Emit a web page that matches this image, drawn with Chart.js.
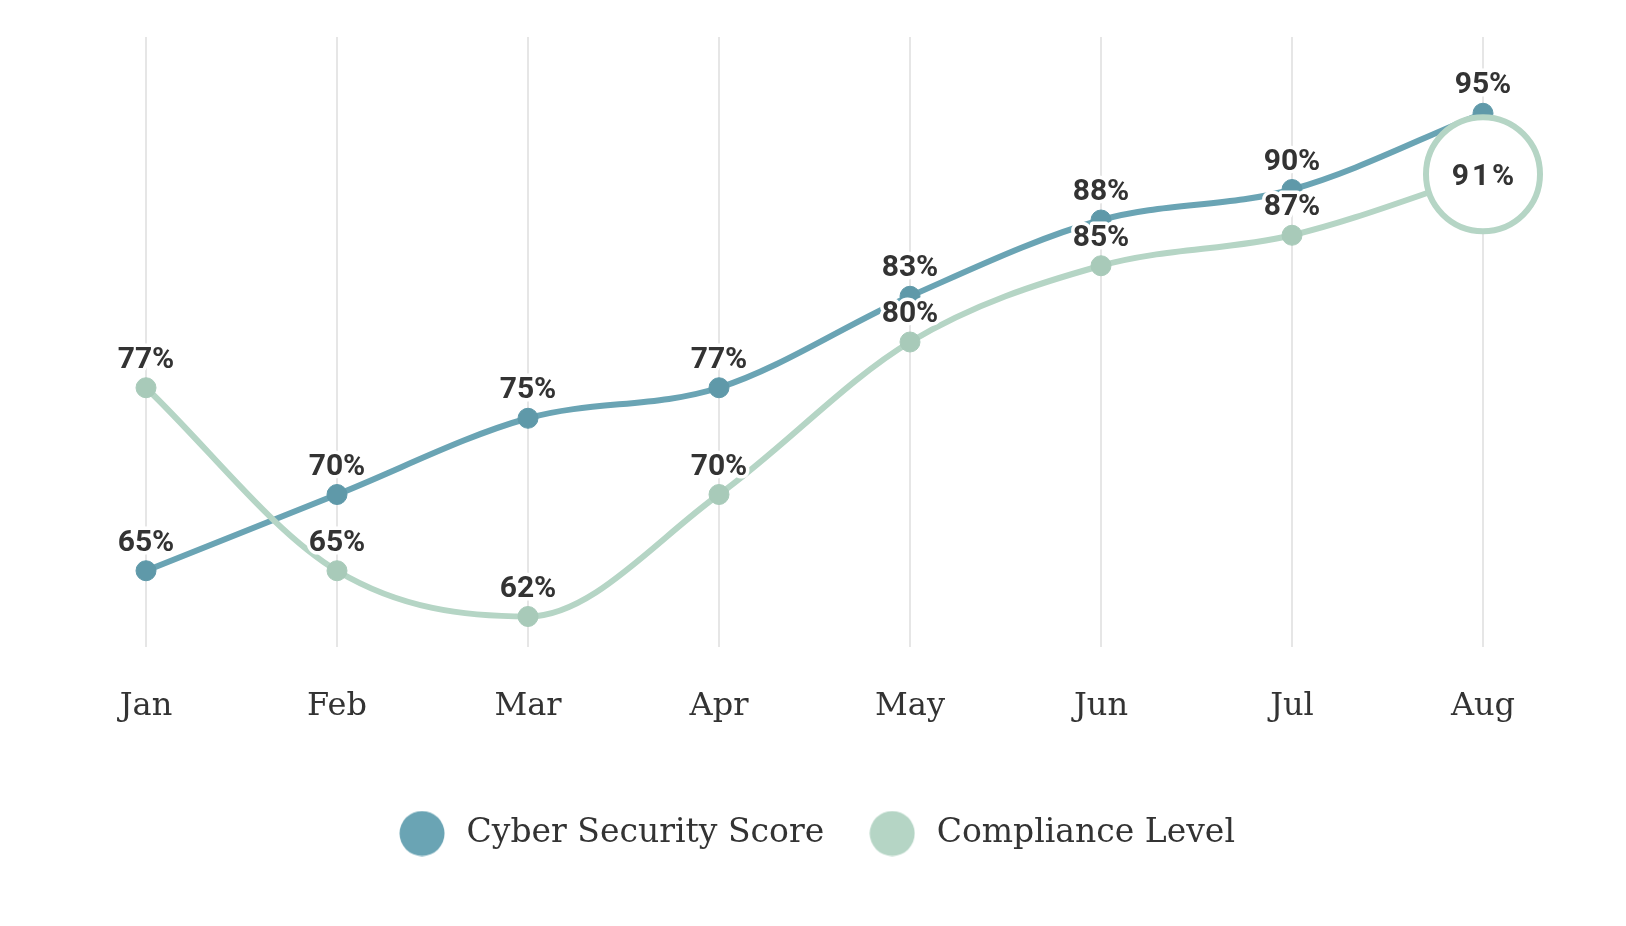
<!DOCTYPE html>
<html><head><meta charset="utf-8">
<script src="https://cdn.jsdelivr.net/npm/chart.js@4.4.0/dist/chart.umd.min.js"></script>
<style>html,body{margin:0;padding:0;background:#fff;overflow:hidden}#wrap{width:1626px;height:926px}</style>
</head><body><div id="wrap"><canvas id="c" width="1626" height="926"></canvas></div>
<script>
const months = ['Jan', 'Feb', 'Mar', 'Apr', 'May', 'Jun', 'Jul', 'Aug'];
const cyberScore = [65, 70, 75, 77, 83, 88, 90, 95];
const complianceLevel = [77, 65, 62, 70, 80, 85, 87, 91];
const seriesNames = ['Cyber Security Score', 'Compliance Level'];
const yRange = [60, 100];

const SERIF = "'Roboto Slab','DejaVu Serif',serif";
const CYBER_LINE = '#6aa4b4', CYBER_PT = '#5f99a9';
const COMP_LINE = '#b5d5c5', COMP_PT = '#a8cab9';
const lastIdx = complianceLevel.length - 1;

function makeDot(color) {
  const c = document.createElement('canvas');
  c.width = 46; c.height = 46;
  const g = c.getContext('2d');
  g.fillStyle = color;
  g.beginPath(); g.arc(23, 23, 22.5, 0, Math.PI * 2); g.fill();
  return c;
}

const valueLabels = {
  id: 'valueLabels',
  afterDatasetsDraw(chart) {
    const ctx = chart.ctx;
    ctx.save();
    ctx.textAlign = 'center';
    ctx.textBaseline = 'alphabetic';
    ctx.font = 'bold 30px Roboto';
    [0, 1].forEach(di => {
      const meta = chart.getDatasetMeta(di);
      const data = chart.data.datasets[di].data;
      meta.data.forEach((pt, i) => {
        const txt = data[i] + '%';
        ctx.fillStyle = '#333333';
        if (di === 1 && i === lastIdx) {
          ctx.letterSpacing = '3px';
          ctx.fillText(txt, pt.x + 1.5, pt.y + 11);
          ctx.letterSpacing = '0px';
        } else {
          ctx.lineWidth = 7;
          ctx.lineJoin = 'round';
          ctx.strokeStyle = '#ffffff';
          ctx.strokeText(txt, pt.x, pt.y - 20);
          ctx.fillText(txt, pt.x, pt.y - 20);
        }
      });
    });
    ctx.restore();
  }
};

new Chart(document.getElementById('c'), {
  type: 'line',
  data: {
    labels: months,
    datasets: [
      {
        label: seriesNames[0],
        data: cyberScore,
        borderColor: CYBER_LINE,
        borderWidth: 6,
        cubicInterpolationMode: 'monotone',
        pointRadius: 10,
        pointBackgroundColor: CYBER_PT,
        pointBorderColor: CYBER_PT,
        pointBorderWidth: 1,
        clip: false,
        order: 1
      },
      {
        label: seriesNames[1],
        data: complianceLevel,
        borderColor: COMP_LINE,
        borderWidth: 6,
        cubicInterpolationMode: 'monotone',
        pointRadius: c => c.dataIndex === lastIdx ? 57 : 10,
        pointBackgroundColor: c => c.dataIndex === lastIdx ? '#ffffff' : COMP_PT,
        pointBorderColor: c => c.dataIndex === lastIdx ? COMP_LINE : COMP_PT,
        pointBorderWidth: c => c.dataIndex === lastIdx ? 6 : 1,
        clip: false,
        order: 0
      }
    ]
  },
  options: {
    responsive: false,
    animation: false,
    events: [],
    layout: { autoPadding: false, padding: { left: 146, right: 143, top: 37, bottom: 66 } },
    scales: {
      x: {
        offset: false,
        grid: { color: '#e6e6e6', lineWidth: 2, drawTicks: false },
        border: { display: false },
        ticks: { color: '#333333', padding: 40, font: { family: SERIF, size: 32 } },
        afterFit: s => { s.height = 130; }
      },
      y: { display: false, min: yRange[0], max: yRange[1] }
    },
    plugins: {
      tooltip: { enabled: false },
      legend: {
        position: 'bottom',
        labels: {
          usePointStyle: true,
          pointStyleWidth: 56,
          padding: 40,
          color: '#333333',
          font: { family: SERIF, size: 33 },
          generateLabels: chart => chart.data.datasets.map((ds, i) => ({
            text: ds.label, fillStyle: ds.borderColor, strokeStyle: ds.borderColor,
            lineWidth: 0, pointStyle: makeDot(ds.borderColor), datasetIndex: i, hidden: false, fontColor: '#333333'
          }))
        }
      }
    }
  },
  plugins: [valueLabels]
});
</script></body></html>
